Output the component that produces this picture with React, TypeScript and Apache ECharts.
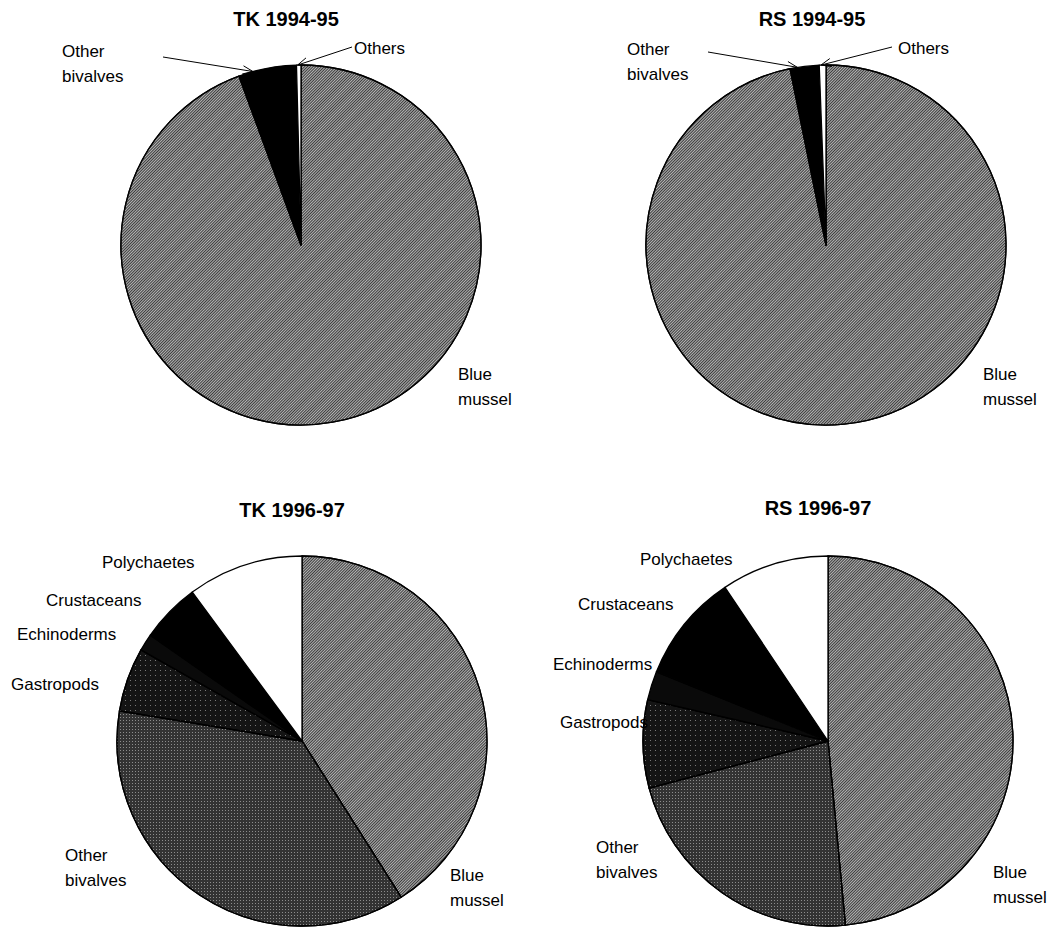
import React, { useEffect, useRef } from "react";
import * as echarts from "echarts";

// ---------- data ----------
const titles = ["TK 1994-95", "RS 1994-95", "TK 1996-97", "RS 1996-97"];
const categoriesTop = ["Blue mussel", "Other bivalves", "Others"];
const tk9495 = [94.4, 5.2, 0.4];
const rs9495 = [96.8, 2.6, 0.6];
const categoriesBottom = ["Blue mussel", "Other bivalves", "Gastropods", "Echinoderms", "Crustaceans", "Polychaetes"];
const tk9697 = [41.0, 36.6, 5.6, 1.5, 5.2, 10.1];
const rs9697 = [48.5, 22.4, 7.7, 2.5, 9.5, 9.4];

const displayNames: Record<string, string> = {
  "Blue mussel": "Blue\nmussel",
  "Other bivalves": "Other\nbivalves",
  Others: "Others",
  Gastropods: "Gastropods",
  Echinoderms: "Echinoderms",
  Crustaceans: "Crustaceans",
  Polychaetes: "Polychaetes",
};

// ---------- styles ----------
const FONT = "'Liberation Sans', Arial, Helvetica, sans-serif";
const border = { borderColor: "#000", borderWidth: 1.3 };
const blueMussel = {
  color: "#b4b4b4",
  decal: { symbol: "rect", symbolSize: 1, color: "#3c3c3c", dashArrayX: [1, 0], dashArrayY: [1, 1], rotation: -Math.PI / 4 },
};
const fillsTop: Record<string, any> = {
  "Blue mussel": blueMussel,
  "Other bivalves": { color: "#000" },
  Others: { color: "#fff" },
};
const fillsBottom: Record<string, any> = {
  "Blue mussel": blueMussel,
  "Other bivalves": {
    color: "#333333",
    decal: { symbol: "rect", symbolSize: 1, color: "#8c8c8c", dashArrayX: [1, 2], dashArrayY: [1, 2], rotation: 0 },
  },
  Gastropods: {
    color: "#141414",
    decal: { symbol: "rect", symbolSize: 1, color: "#777777", dashArrayX: [1, 4], dashArrayY: [1, 4], rotation: 0 },
  },
  Echinoderms: { color: "#0a0a0a" },
  Crustaceans: { color: "#000" },
  Polychaetes: { color: "#fff" },
};

// ---------- layout ----------
type Pie = {
  title: string;
  titlePos: [number, number];
  cats: string[];
  values: number[];
  fills: Record<string, any>;
  center: [number, number];
  r: number;
  labels: Record<string, [number, number]>;
  arrows: Record<string, [number, number]>;
};

const pies: Pie[] = [
  {
    title: titles[0], titlePos: [286, 9], cats: categoriesTop, values: tk9495, fills: fillsTop,
    center: [301, 245], r: 180,
    labels: { "Other bivalves": [62, 39], Others: [354, 36], "Blue mussel": [458, 362] },
    arrows: { "Other bivalves": [163, 57], Others: [352, 47] },
  },
  {
    title: titles[1], titlePos: [812, 9], cats: categoriesTop, values: rs9495, fills: fillsTop,
    center: [826, 245], r: 180,
    labels: { "Other bivalves": [627, 37], Others: [898, 36], "Blue mussel": [983, 362] },
    arrows: { "Other bivalves": [708, 52], Others: [892, 47] },
  },
  {
    title: titles[2], titlePos: [292, 500], cats: categoriesBottom, values: tk9697, fills: fillsBottom,
    center: [302, 741], r: 185,
    labels: {
      Polychaetes: [102, 550], Crustaceans: [46, 588], Echinoderms: [17, 622], Gastropods: [11, 672],
      "Other bivalves": [65, 843], "Blue mussel": [450, 863],
    },
    arrows: {},
  },
  {
    title: titles[3], titlePos: [818, 498], cats: categoriesBottom, values: rs9697, fills: fillsBottom,
    center: [828, 741], r: 185,
    labels: {
      Polychaetes: [640, 547], Crustaceans: [578, 592], Echinoderms: [553, 652], Gastropods: [560, 710],
      "Other bivalves": [596, 835], "Blue mussel": [993, 860],
    },
    arrows: {},
  },
];

function rimPoint(p: Pie, idx: number): [number, number] {
  const total = p.values.reduce((a, b) => a + b, 0);
  let before = 0;
  for (let i = 0; i < idx; i++) before += p.values[i];
  const deg = ((before + 0.25 * p.values[idx]) / total) * 360;
  const a = (deg * Math.PI) / 180;
  return [p.center[0] + p.r * Math.sin(a), p.center[1] - p.r * Math.cos(a)];
}

function arrowHead(from: [number, number], tip: [number, number]) {
  const dx = from[0] - tip[0];
  const dy = from[1] - tip[1];
  const len = Math.hypot(dx, dy);
  const ux = dx / len, uy = dy / len;
  const L = 11, ang = (22 * Math.PI) / 180;
  const rot = (s: number): [number, number] => [
    tip[0] + L * (ux * Math.cos(s * ang) - uy * Math.sin(s * ang)),
    tip[1] + L * (ux * Math.sin(s * ang) + uy * Math.cos(s * ang)),
  ];
  return [rot(1), tip, rot(-1)];
}

export default function App() {
  const ref = useRef<HTMLDivElement>(null);
  useEffect(() => {
    document.body.style.margin = "0";
    const chart = echarts.init(ref.current!, null, { renderer: "svg" });

    const graphics: any[] = [];
    pies.forEach((p) => {
      Object.keys(p.arrows).forEach((name) => {
        const idx = p.cats.indexOf(name);
        const tip = rimPoint(p, idx);
        graphics.push({
          type: "polyline",
          silent: true,
          shape: { points: arrowHead(p.arrows[name], tip) },
          style: { stroke: "#000", lineWidth: 1, fill: null },
          z: 100,
        });
      });
    });

    const option: any = {
      animation: false,
      backgroundColor: "#fff",
      title: pies.map((p) => ({
        text: p.title,
        left: p.titlePos[0],
        top: p.titlePos[1],
        textAlign: "center",
        padding: 0,
        textStyle: { fontFamily: FONT, fontSize: 20, fontWeight: "bold", color: "#000" },
      })),
      graphic: graphics,
      series: pies.map((p) => ({
        type: "pie",
        center: p.center,
        radius: p.r,
        startAngle: 90,
        clockwise: true,
        avoidLabelOverlap: false,
        silent: true,
        data: p.cats.map((c, i) => ({
          name: c,
          value: p.values[i],
          itemStyle: { ...p.fills[c], ...border },
          labelLine: { show: !!p.arrows[c] },
        })),
        label: {
          show: true,
          position: "outside",
          formatter: (q: any) => displayNames[q.name],
          color: "#000",
          fontFamily: FONT,
          fontSize: 17,
          lineHeight: 25,
        },
        labelLine: { show: false, lineStyle: { color: "#000", width: 1 } },
        labelLayout: (params: any) => {
          const name = p.cats[params.dataIndex];
          const pos = p.labels[name];
          const res: any = { x: pos[0], y: pos[1], align: "left", verticalAlign: "top" };
          const a = p.arrows[name];
          if (a) {
            const tip = rimPoint(p, params.dataIndex);
            res.labelLinePoints = [tip, tip, a];
          }
          return res;
        },
      })),
    };
    chart.setOption(option);
    return () => chart.dispose();
  }, []);
  return <div ref={ref} style={{ width: 1050, height: 928, background: "#fff" }} />;
}
